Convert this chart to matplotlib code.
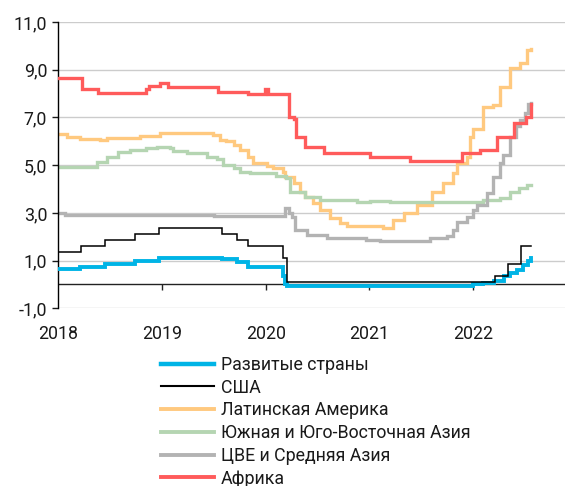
import matplotlib
matplotlib.use("Agg")
import matplotlib.pyplot as plt
from matplotlib.lines import Line2D

plt.rcParams["font.family"] = ["Roboto", "DejaVu Sans"]

# series breakpoints (decimal years), drawn as post-steps
dev_x = [2018.0, 2018.21, 2018.45, 2018.74, 2018.97, 2019.58, 2019.72, 2019.83, 2020.17, 2020.19, 2020.21,
         2021.0, 2021.9, 2022.0, 2022.1, 2022.2, 2022.3, 2022.36, 2022.42, 2022.48, 2022.53, 2022.56]
dev_y = [0.63, 0.74, 0.86, 0.97, 1.12, 1.06, 0.93, 0.75, 0.35, 0.0, -0.05,
         -0.07, -0.05, 0.0, 0.05, 0.15, 0.35, 0.5, 0.6, 0.8, 1.0, 1.12]

us_x = [2018.0, 2018.22, 2018.45, 2018.74, 2018.97, 2019.58, 2019.72, 2019.83, 2020.17, 2020.21,
        2022.21, 2022.34, 2022.46, 2022.56]
us_y = [1.35, 1.6, 1.85, 2.1, 2.37, 2.12, 1.87, 1.6, 1.12, 0.1,
        0.35, 0.85, 1.6, 1.6]

latam_x = [2018.0, 2018.08, 2018.21, 2018.40, 2018.47, 2018.79, 2018.98, 2019.11, 2019.49, 2019.56, 2019.62,
           2019.69, 2019.75, 2019.83, 2019.88, 2020.01, 2020.07, 2020.17, 2020.19, 2020.27, 2020.33, 2020.38,
           2020.46, 2020.52, 2020.62, 2020.72, 2020.78, 2021.13, 2021.2, 2021.23, 2021.33, 2021.46, 2021.6,
           2021.71, 2021.81, 2021.84, 2021.94, 2021.97, 2022.0, 2022.1, 2022.19, 2022.26, 2022.36, 2022.45,
           2022.52, 2022.56]
latam_y = [6.29, 6.2, 6.08, 6.06, 6.15, 6.22, 6.34, 6.36, 6.27, 6.06, 6.0,
           5.85, 5.64, 5.36, 5.08, 4.98, 4.87, 4.73, 4.52, 4.24, 3.89, 3.68,
           3.4, 3.12, 2.77, 2.56, 2.45, 2.38, 2.36, 2.7, 2.98, 3.33, 3.89,
           4.24, 4.66, 5.08, 5.36, 6.2, 6.5, 7.45, 7.52, 8.29, 9.06, 9.27,
           9.83, 9.87]

asia_x = [2018.0, 2018.37, 2018.4, 2018.47, 2018.58, 2018.69, 2018.85, 2018.95, 2019.08, 2019.11, 2019.24,
          2019.43, 2019.53, 2019.59, 2019.69, 2019.75, 2019.85, 2020.1, 2020.2, 2020.23, 2020.38, 2020.52,
          2020.88, 2021.01, 2021.2, 2022.1, 2022.26, 2022.36, 2022.44, 2022.52, 2022.56]
asia_y = [4.94, 5.15, 5.15, 5.36, 5.57, 5.64, 5.71, 5.78, 5.71, 5.6, 5.5,
          5.36, 5.24, 5.0, 4.87, 4.73, 4.66, 4.55, 4.45, 3.89, 3.68, 3.54,
          3.47, 3.5, 3.45, 3.54, 3.61, 3.89, 4.03, 4.18, 4.18]

cee_x = [2018.0, 2018.06, 2019.5, 2020.19, 2020.22, 2020.25, 2020.28, 2020.4, 2020.59, 2020.97, 2021.1,
         2021.49, 2021.58, 2021.75, 2021.81, 2021.84, 2021.94, 2022.0, 2022.04, 2022.13, 2022.19, 2022.26,
         2022.29, 2022.36, 2022.41, 2022.45, 2022.5, 2022.53, 2022.56]
cee_y = [3.0, 2.91, 2.87, 3.22, 2.98, 2.84, 2.28, 2.07, 1.94, 1.86, 1.8,
         1.84, 1.94, 2.03, 2.28, 2.63, 2.84, 3.12, 3.33, 3.82, 4.52, 5.08,
         5.43, 6.2, 6.62, 6.9, 7.18, 7.55, 7.6]

africa_x = [2018.0, 2018.23, 2018.38, 2018.85, 2018.87, 2018.98, 2019.06, 2019.54, 2019.83, 2019.99, 2020.02,
            2020.22, 2020.27, 2020.29, 2020.38, 2020.56, 2021.01, 2021.39, 2021.89, 2022.07, 2022.23, 2022.39,
            2022.51, 2022.555, 2022.56]
africa_y = [8.67, 8.18, 8.04, 8.18, 8.32, 8.43, 8.26, 8.08, 7.98, 8.2, 7.98,
            7.03, 6.94, 6.17, 5.78, 5.52, 5.36, 5.18, 5.5, 5.64, 6.17, 6.78,
            7.0, 7.56, 7.56]

labels = ["Развитые страны", "США", "Латинская Америка",
          "Южная и Юго-Восточная Азия", "ЦВЕ и Средняя Азия", "Африка"]
colors = ["#00b4e6", "#000000", "#ffc97f", "#b5d5b2", "#b3b3b3", "#ff5b5b"]
widths = [2.8, 1.1, 2.4, 2.4, 2.4, 2.4]

year_ticks = [2018, 2019, 2020, 2021, 2022]
y_ticks = [-1, 1, 3, 5, 7, 9, 11]

W, H = 565, 486
fig = plt.figure(figsize=(W / 100, H / 100), dpi=100)
ax = fig.add_axes([58.3 / W, 1 - 308.3 / H, (W - 58.3) / W, (308.3 - 22) / H])

series = [(dev_x, dev_y), (us_x, us_y), (latam_x, latam_y),
          (asia_x, asia_y), (cee_x, cee_y), (africa_x, africa_y)]
zorders = [3, 4, 2, 2, 2, 3]
draw_order = [3, 4, 2, 5, 0, 1]
for i in draw_order:
    xs, ys = series[i]
    ax.plot(xs, ys, drawstyle="steps-post", color=colors[i], lw=widths[i],
            solid_joinstyle="miter", zorder=zorders[i] + i * 0.01)

ax.set_xlim(2018, 2018 + (W - 58.3) / 103.7)
ax.set_ylim(-1, 11)
ax.set_yticks(y_ticks)
ax.set_yticklabels([f"{v:.1f}".replace(".", ",") for v in y_ticks])
ax.set_xticks(year_ticks)
ax.set_xticklabels([str(y) for y in year_ticks])
ax.yaxis.grid(True, color="#cccccc", lw=1.0)
ax.set_axisbelow(True)
for s in ["top", "right", "bottom"]:
    ax.spines[s].set_visible(False)
ax.spines["left"].set_color("black")
ax.spines["left"].set_linewidth(1.0)
ax.tick_params(axis="y", length=4, width=1, pad=4, labelsize=12.8, colors="#1a1a1a")
ax.tick_params(axis="x", length=0, pad=12, labelsize=12.8, colors="#1a1a1a")

ax.axhline(0, color="#222222", lw=1.0, zorder=1.5)
ax.vlines(year_ticks[1:], -0.25, 0, color="#222222", lw=1.0, zorder=1.5)

handles = [Line2D([0], [0], color=c, lw=w + 0.4) for c, w in zip(colors, widths)]
fig.legend(handles, labels, loc="upper left", bbox_to_anchor=(161 / W, 1 - 356 / H),
           frameon=False, fontsize=12.8, handlelength=3.0, handletextpad=0.35,
           labelspacing=0.265, borderpad=0, borderaxespad=0, labelcolor="#1a1a1a")

fig.savefig("out.png", dpi=100)
